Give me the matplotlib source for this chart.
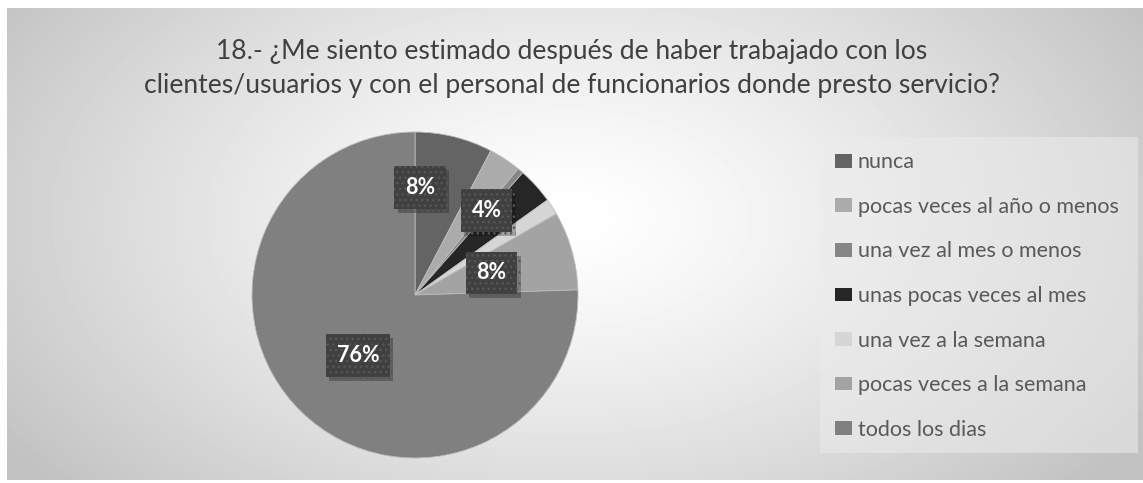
import numpy as np
import matplotlib
matplotlib.use("Agg")
import matplotlib.pyplot as plt
import matplotlib.patheffects as pe
from matplotlib.patches import Patch

# Datos (porcentaje de respuestas)
categorias = ['nunca', 'pocas veces al año o menos', 'una vez al mes o menos',
              'unas pocas veces al mes', 'una vez a la semana',
              'pocas veces a la semana', 'todos los dias']
valores = [7.7, 3.2, 0.6, 3.6, 1.6, 7.8, 75.5]
etiquetas = ['8%', '', '', '4%', '', '8%', '76%']
colores = ['#646464', '#ababab', '#868686', '#262626', '#d6d6d6', '#a3a3a3', '#808080']

titulo = ('18.- ¿Me siento estimado después de haber trabajado con los\n'
          'clientes/usuarios y con el personal de funcionarios donde presto servicio?')

W, H = 1143, 483
fig = plt.figure(figsize=(W / 100, H / 100), dpi=100)
fig.patch.set_facecolor('white')

# Fondo con degradado radial
bg = fig.add_axes([7 / W, 3 / H, (W - 7) / W, (H - 11) / H])
yy, xx = np.mgrid[0:472, 0:1136]
d = np.sqrt(((xx - 560) / 700.0) ** 2 + ((yy - 210) / 420.0) ** 2)
g = np.clip(1.0 - 0.25 * d ** 1.3, 0.76, 1.0)
bg.imshow(g, cmap='gray', vmin=0, vmax=1, aspect='auto', interpolation='bilinear')
bg.axis('off')

# Caja de leyenda mas clara
leg_bg = fig.add_axes([820 / W, (H - 453) / H, 318 / W, 316 / H])
leg_bg.set_facecolor('#ececec')
leg_bg.patch.set_alpha(0.55)
leg_bg.set_xticks([])
leg_bg.set_yticks([])
for s in leg_bg.spines.values():
    s.set_visible(False)

fig.text(572 / W, 1 - 68 / H, titulo, ha='center', va='center',
         fontsize=19.1, color='#404040', family='Lato', linespacing=1.45)

# Pie
cx, cy, r = 415, 295, 163
ax = fig.add_axes([(cx - r) / W, (H - cy - r) / H, 2 * r / W, 2 * r / H])
wedges, _ = ax.pie(valores, colors=colores, startangle=90, counterclock=False,
                   radius=1, wedgeprops=dict(linewidth=0.6, edgecolor='#bdbdbd'))
ax.set_xlim(-1, 1)
ax.set_ylim(-1, 1)
ax.set_aspect('equal')
ax.axis('off')

# posiciones de etiquetas (fraccion del radio)
pos_etq = [(0.03, 0.66), None, None, (0.44, 0.52), None, (0.47, 0.135), (-0.35, -0.37)]
for et, p in zip(etiquetas, pos_etq):
    if not et:
        continue
    t = ax.text(p[0], p[1], et, ha='center', va='center',
                fontsize=15.5, fontweight='bold', family='Lato', color='white',
                bbox=dict(boxstyle='square,pad=0.5', facecolor='#404040',
                          edgecolor='#575757', linewidth=0, hatch='...'), zorder=5)
    t.get_bbox_patch().set_path_effects([
        pe.SimplePatchShadow(offset=(2.5, -3), shadow_rgbFace='black', alpha=0.25),
        pe.Normal()])

handles = [Patch(facecolor=c, edgecolor='none', label=l) for c, l in zip(colores, categorias)]
fig.legend(handles=handles, loc='upper left', bbox_to_anchor=(816 / W, 1 - 133 / H),
           frameon=False, labelcolor='#595959',
           handlelength=0.75, handleheight=0.6, handletextpad=0.3,
           labelspacing=1.14, prop=dict(family='Lato', size=15.5))

fig.savefig('out.png', dpi=100)
